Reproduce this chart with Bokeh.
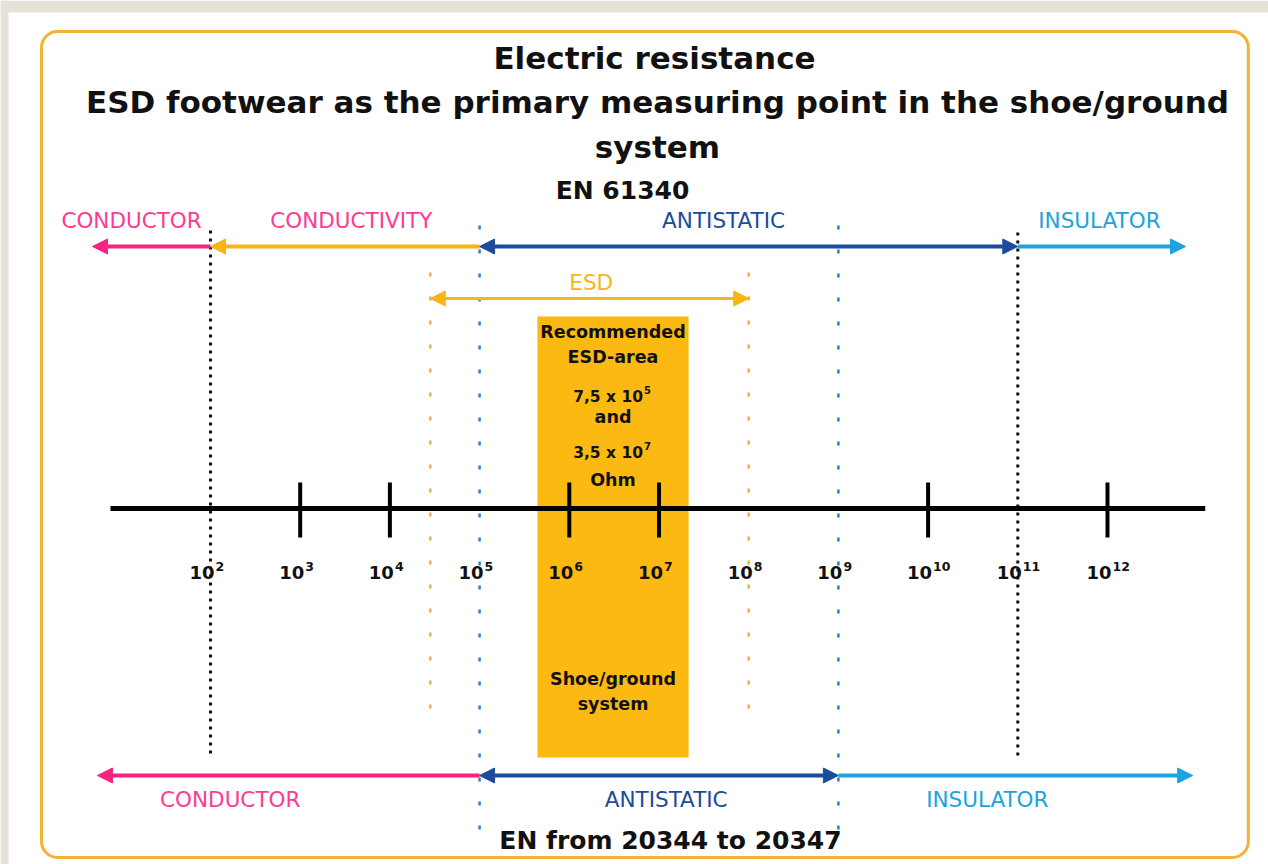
from bokeh.plotting import figure
from bokeh.models import Range1d, Arrow, NormalHead, Label, ColumnDataSource
from bokeh.embed import file_html
from bokeh.resources import INLINE
from bokeh.core.properties import value

# ---------------- data (resistance in decades: value = 10**x) ----------------
decades = [2, 3, 4, 5, 6, 7, 8, 9, 10, 11, 12]
solid_ticks = [3, 4, 6, 7, 10, 12]
en61340_limits = [2, 11]          # conductor / conductive / antistatic / insulator
en20344_limits = [5, 9]           # EN 20344-20347 limits
esd_limits = [4.45, 8.0]          # ESD arrow
recommended = [5.645, 7.33]       # recommended ESD-area box
axis_extent = [0.885, 13.09]

top_names = ["CONDUCTOR", "CONDUCTIVITY", "ANTISTATIC", "INSULATOR"]
top_from = [2, 5, 5, 11]
top_to = [0.685, 2, 11, 12.87]
top_both = [False, False, True, False]
top_label_x = [1.12, 3.57, 7.72, 11.91]

bottom_names = ["CONDUCTOR", "ANTISTATIC", "INSULATOR"]
bottom_from = [5, 5, 9]
bottom_to = [0.74, 9, 12.95]
bottom_both = [False, True, False]
bottom_label_x = [2.22, 7.08, 10.66]

box_lines = ["Recommended", "ESD-area", "and", "Ohm", "Shoe/ground", "system"]
box_values = ["7,5 x 10", "3,5 x 10"]
box_exps = ["5", "7"]

# ---------------- styles ----------------
PINK = "#f7237f"
PINK_T = "#ff3a92"
YELLOW = "#f8b514"
DBLUE = "#1b4c9c"
LBLUE = "#1ea2e0"
BOX = "#fcb912"
FRAME = "#f1b236"
BEIGE = "#e6e2d9"
FONT = "DejaVu Sans"

X0, X1 = -0.341, 13.795
p = figure(width=1268, height=864, x_range=Range1d(X0, X1), y_range=Range1d(864, 0),
           output_backend="svg", toolbar_location=None, min_border=0,
           x_axis_location=None, y_axis_location=None,
           background_fill_color="white", border_fill_color="white",
           outline_line_color=None)
p.grid.visible = False

# beige page edges & frame
p.quad(left=[X0], right=[X1], top=[0], bottom=[12], fill_color=BEIGE, line_color=None)
p.quad(left=[X0], right=[X0 + 8 / 89.7], top=[0], bottom=[864], fill_color=BEIGE, line_color=None)
p.quad(left=[0.116], right=[13.57], top=[31], bottom=[857], fill_color=None,
       line_color=FRAME, line_width=3, border_radius=16)

# recommended box
p.quad(left=[recommended[0]], right=[recommended[1]], top=[316], bottom=[757],
       fill_color=BOX, line_color=None)

# dotted verticals
p.segment(x0=en61340_limits, x1=en61340_limits, y0=[230, 232], y1=[755, 755],
          line_color="#111111", line_width=3, line_dash="3 5")
p.segment(x0=en20344_limits, x1=en20344_limits, y0=[225, 225], y1=[835, 835],
          line_color="#2f7fc6", line_width=2.5, line_dash="4 20")
p.segment(x0=esd_limits, x1=esd_limits, y0=[272, 272], y1=[728, 728],
          line_color=YELLOW, line_width=2.5, line_dash="4 20")

# main resistance axis
p.segment(x0=[axis_extent[0]], x1=[axis_extent[1]], y0=[508], y1=[508],
          line_color="black", line_width=5)
p.segment(x0=solid_ticks, x1=solid_ticks, y0=[482] * len(solid_ticks),
          y1=[537] * len(solid_ticks), line_color="black", line_width=4)

# tick labels 10^n
src_t = ColumnDataSource(dict(x=decades, y=[572] * len(decades),
                              base=["10"] * len(decades),
                              exp=[str(d) for d in decades]))
p.text(x="x", y="y", text="base", source=src_t, text_align="right",
       text_baseline="middle", x_offset=4, text_font=value(FONT),
       text_font_style="bold", text_font_size="18px", text_color="#111111")
p.text(x="x", y="y", text="exp", source=src_t, text_align="left",
       text_baseline="middle", x_offset=5, y_offset=-6, text_font=value(FONT),
       text_font_style="bold", text_font_size="12.5px", text_color="#111111")


def arrows(fr, to, both, y, colors, lw=4):
    for a, b, bb, c in zip(fr, to, both, colors):
        p.add_layout(Arrow(
            x_start=a, y_start=y, x_end=b, y_end=y,
            end=NormalHead(size=15, fill_color=c, line_color=c, line_width=1),
            start=NormalHead(size=15, fill_color=c, line_color=c, line_width=1) if bb else None,
            line_color=c, line_width=lw))


arrows(top_from, top_to, top_both, 246, [PINK, YELLOW, DBLUE, LBLUE])
arrows(bottom_from, bottom_to, bottom_both, 775, [PINK, DBLUE, LBLUE])
arrows([esd_limits[0]], [esd_limits[1]], [True], 298, [YELLOW], lw=3)

# zone labels
src_top = ColumnDataSource(dict(x=top_label_x, y=[220] * 4, t=top_names,
                                c=[PINK_T, PINK_T, DBLUE, LBLUE]))
p.text(x="x", y="y", text="t", text_color="c", source=src_top, text_align="center",
       text_baseline="middle", text_font=value(FONT), text_font_size="21.5px")
src_bot = ColumnDataSource(dict(x=bottom_label_x, y=[799] * 3, t=bottom_names,
                                c=[PINK_T, DBLUE, LBLUE]))
p.text(x="x", y="y", text="t", text_color="c", source=src_bot, text_align="center",
       text_baseline="middle", text_font=value(FONT), text_font_size="21.5px")
p.text(x=[sum(esd_limits) / 2 + 0.02], y=[282], text=["ESD"], text_color=YELLOW,
       text_align="center", text_baseline="middle", text_font=value(FONT),
       text_font_size="21.5px")

# box texts
bc = sum(recommended) / 2
p.text(x=[bc] * 6, y=[331, 356, 416, 479, 678, 703], text=box_lines,
       text_align="center", text_baseline="middle", text_font=value(FONT),
       text_font_style="bold", text_font_size="17.5px", text_color="#111111")
p.text(x=[bc] * 2, y=[396, 452], text=box_values, text_align="right",
       text_baseline="middle", x_offset=30, text_font=value(FONT),
       text_font_style="bold", text_font_size="15.5px", text_color="#111111")
p.text(x=[bc] * 2, y=[396, 452], text=box_exps, text_align="left",
       text_baseline="middle", x_offset=31, y_offset=-7, text_font=value(FONT),
       text_font_style="bold", text_font_size="10px", text_color="#111111")

# titles
for txt, px, py, fs in [("Electric resistance", 654, 57, "31px"),
                        ("ESD footwear as the primary measuring point in the shoe/ground", 657, 101, "31px"),
                        ("system", 657, 146, "31px"),
                        ("EN 61340", 622, 190, "25px"),
                        ("EN from 20344 to 20347", 670, 840, "25px")]:
    p.add_layout(Label(x=px, y=py, x_units="screen", y_units="data", text=txt,
                       text_align="center", text_baseline="middle", text_font=FONT,
                       text_font_style="bold", text_font_size=fs, text_color="#111111"))

open("out.html", "w").write(file_html(p, INLINE))
